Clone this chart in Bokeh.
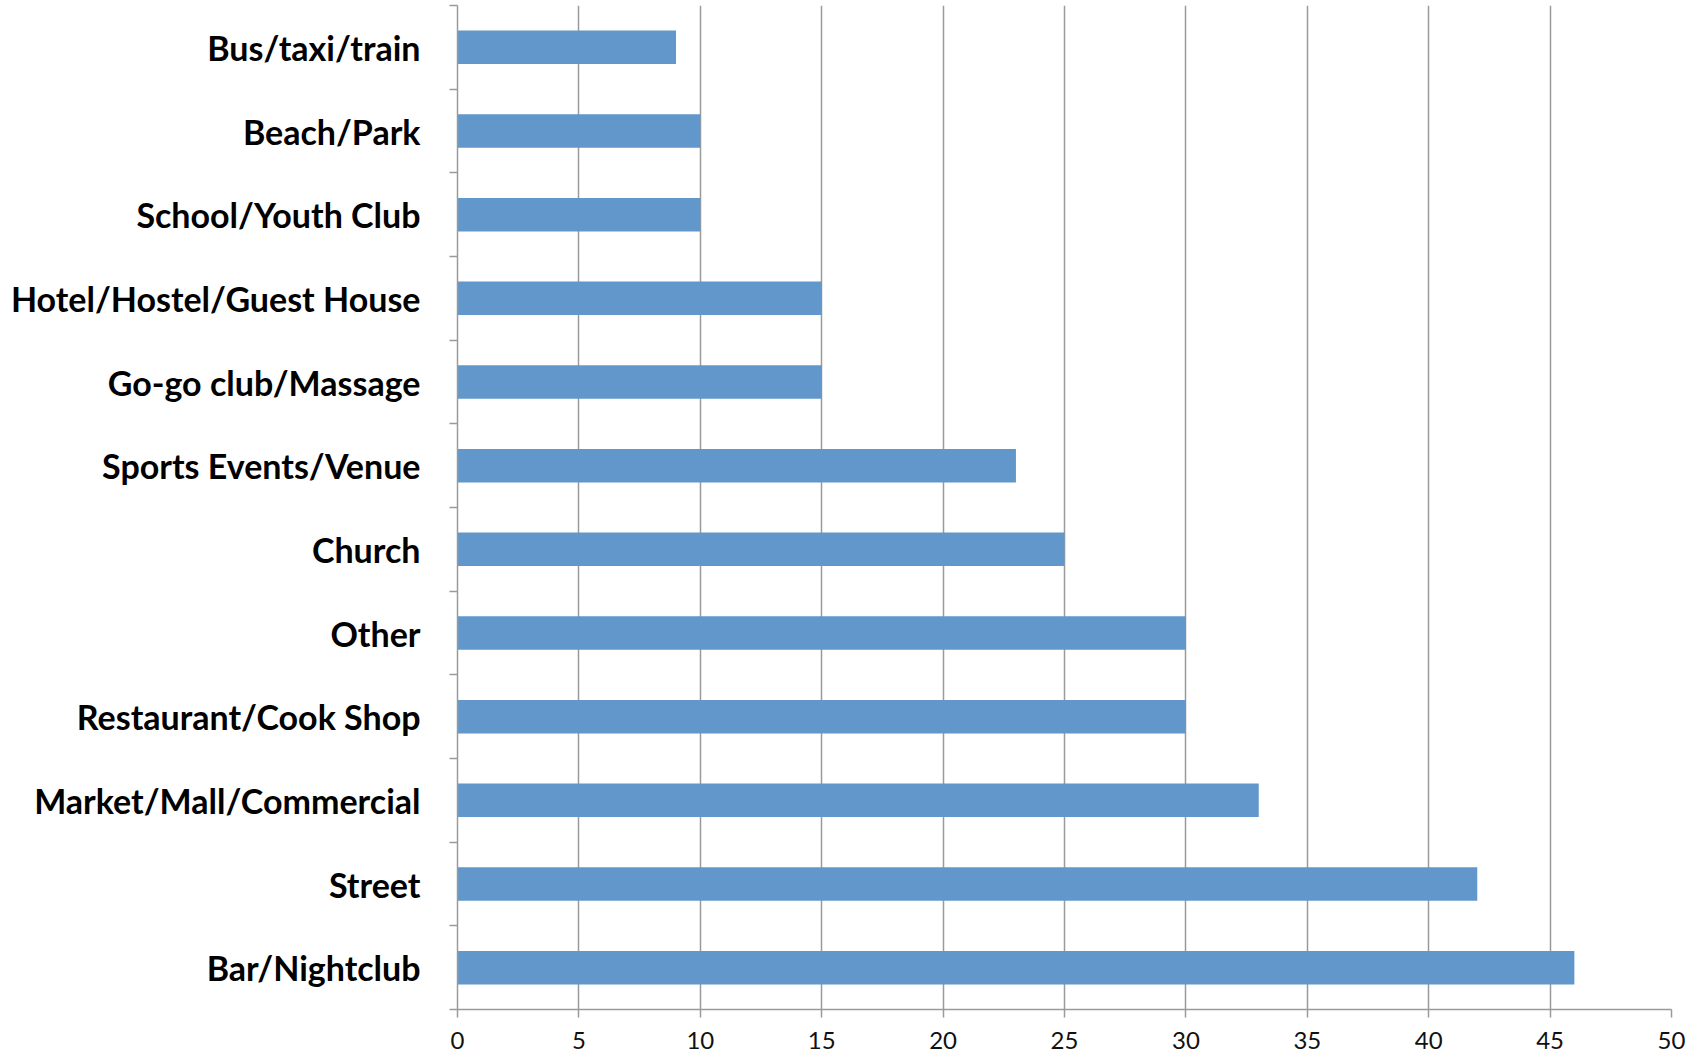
from bokeh.plotting import figure
from bokeh.models import Range1d, FixedTicker, ColumnDataSource
from bokeh.embed import file_html
from bokeh.resources import INLINE

categories = ["Bar/Nightclub", "Street", "Market/Mall/Commercial", "Restaurant/Cook Shop",
              "Other", "Church", "Sports Events/Venue", "Go-go club/Massage",
              "Hotel/Hostel/Guest House", "School/Youth Club", "Beach/Park", "Bus/taxi/train"]
values = [46, 42, 33, 30, 30, 25, 23, 15, 15, 10, 10, 9]
x_ticks = [0, 5, 10, 15, 20, 25, 30, 35, 40, 45, 50]

n = len(categories)
pos = list(range(n))
src = ColumnDataSource(dict(y=pos, v=values, cat=categories))

p = figure(width=1705, height=1054, output_backend="svg", toolbar_location=None,
           x_range=Range1d(0, 50), y_range=Range1d(-0.5, n - 0.5),
           min_border_left=457, min_border_right=34, min_border_top=5, min_border_bottom=45)
p.outline_line_color = None
p.background_fill_color = "white"
p.border_fill_color = "white"

p.hbar(y="y", right="v", left=0, height=0.4, source=src, fill_color="#6197CA", line_color=None)

grid_col = "#9A9A9A"
p.xgrid.ticker = FixedTicker(ticks=x_ticks)
p.xgrid.grid_line_color = grid_col
p.xgrid.grid_line_width = 1.5
p.ygrid.grid_line_color = None

p.xaxis.ticker = FixedTicker(ticks=x_ticks)
p.xaxis.axis_line_color = grid_col
p.xaxis.axis_line_width = 1.5
p.xaxis.major_tick_line_color = grid_col
p.xaxis.major_tick_line_width = 1.5
p.xaxis.major_tick_out = 8
p.xaxis.major_tick_in = 0
p.xaxis.minor_tick_line_color = None
p.xaxis.major_label_text_font = "Lato"
p.xaxis.major_label_text_font_size = "24px"
p.xaxis.major_label_text_color = "#111111"
p.xaxis.major_label_standoff = 14

p.yaxis.ticker = FixedTicker(ticks=pos, minor_ticks=[i - 0.5 for i in range(n + 1)])
p.yaxis.major_label_overrides = {i: c for i, c in enumerate(categories)}
p.yaxis.axis_line_color = grid_col
p.yaxis.axis_line_width = 1.5
p.yaxis.major_tick_line_color = None
p.yaxis.major_tick_out = 0
p.yaxis.major_tick_in = 0
p.yaxis.minor_tick_line_color = grid_col
p.yaxis.minor_tick_line_width = 1.5
p.yaxis.minor_tick_out = 8
p.yaxis.minor_tick_in = 0
p.yaxis.major_label_text_font = "Lato"
p.yaxis.major_label_text_font_style = "bold"
p.yaxis.major_label_text_font_size = "34px"
p.yaxis.major_label_text_color = "black"
p.yaxis.major_label_standoff = 29

open("out.html", "w").write(file_html(p, INLINE))
